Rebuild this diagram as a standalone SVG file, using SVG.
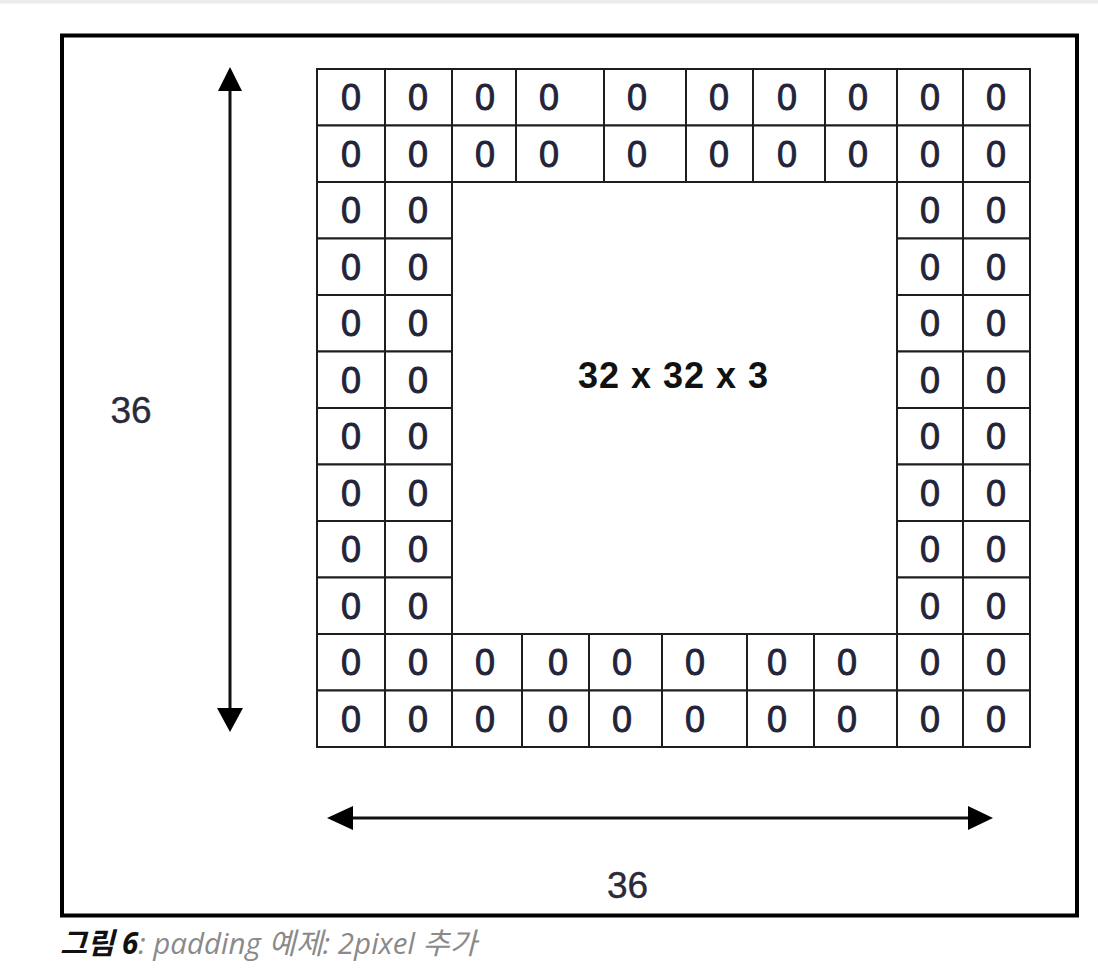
<svg xmlns="http://www.w3.org/2000/svg" width="1098" height="968" viewBox="0 0 1098 968">
<style>
.cell{fill:#fff;stroke:#1e1e1e;stroke-width:2}
.z{font-family:"Liberation Sans",Arial,sans-serif;font-size:36px;fill:#23233a;stroke:#23233a;stroke-width:0.9;text-anchor:middle}
.lbl{font-family:"Liberation Sans",Arial,sans-serif;font-size:37px;fill:#2a2a3a;stroke:#2a2a3a;stroke-width:0.4;text-anchor:middle}
.big{font-family:"Liberation Sans",Arial,sans-serif;font-size:36px;font-weight:bold;fill:#111;text-anchor:middle}
.ln{stroke:#111;stroke-width:3;fill:none}
.hd{fill:#000}
.cap{font-family:"Open Sans","Noto Sans CJK KR",sans-serif;font-size:29.5px;font-style:italic}
</style>
<rect x="0" y="0" width="1098" height="968" fill="#fff"/>
<rect x="0" y="0" width="1098" height="3.5" fill="#ececec"/>
<rect id="frame" x="62" y="35.5" width="1015" height="880" fill="none" stroke="#000" stroke-width="4"/>

<g id="top-band">
<rect class="cell" x="317" y="69" width="68" height="56.5"/><rect class="cell" x="385" y="69" width="67" height="56.5"/><rect class="cell" x="452" y="69" width="64" height="56.5"/><rect class="cell" x="516" y="69" width="88" height="56.5"/><rect class="cell" x="604" y="69" width="82" height="56.5"/><rect class="cell" x="686" y="69" width="67" height="56.5"/><rect class="cell" x="753" y="69" width="72" height="56.5"/><rect class="cell" x="825" y="69" width="72" height="56.5"/><rect class="cell" x="897" y="69" width="66" height="56.5"/><rect class="cell" x="963" y="69" width="67" height="56.5"/>
<rect class="cell" x="317" y="125.5" width="68" height="56.5"/><rect class="cell" x="385" y="125.5" width="67" height="56.5"/><rect class="cell" x="452" y="125.5" width="64" height="56.5"/><rect class="cell" x="516" y="125.5" width="88" height="56.5"/><rect class="cell" x="604" y="125.5" width="82" height="56.5"/><rect class="cell" x="686" y="125.5" width="67" height="56.5"/><rect class="cell" x="753" y="125.5" width="72" height="56.5"/><rect class="cell" x="825" y="125.5" width="72" height="56.5"/><rect class="cell" x="897" y="125.5" width="66" height="56.5"/><rect class="cell" x="963" y="125.5" width="67" height="56.5"/>
<text class="z" x="351" y="110.3">0</text><text class="z" x="418" y="110.3">0</text><text class="z" x="485" y="110.3">0</text><text class="z" x="549" y="110.3">0</text><text class="z" x="637" y="110.3">0</text><text class="z" x="719" y="110.3">0</text><text class="z" x="787" y="110.3">0</text><text class="z" x="858" y="110.3">0</text><text class="z" x="930" y="110.3">0</text><text class="z" x="996" y="110.3">0</text>
<text class="z" x="351" y="166.8">0</text><text class="z" x="418" y="166.8">0</text><text class="z" x="485" y="166.8">0</text><text class="z" x="549" y="166.8">0</text><text class="z" x="637" y="166.8">0</text><text class="z" x="719" y="166.8">0</text><text class="z" x="787" y="166.8">0</text><text class="z" x="858" y="166.8">0</text><text class="z" x="930" y="166.8">0</text><text class="z" x="996" y="166.8">0</text>
</g>

<g id="left-band">
<rect class="cell" x="317" y="182" width="68" height="56.5"/><rect class="cell" x="385" y="182" width="67" height="56.5"/>
<rect class="cell" x="317" y="238.5" width="68" height="56.5"/><rect class="cell" x="385" y="238.5" width="67" height="56.5"/>
<rect class="cell" x="317" y="295" width="68" height="56.5"/><rect class="cell" x="385" y="295" width="67" height="56.5"/>
<rect class="cell" x="317" y="351.5" width="68" height="56.5"/><rect class="cell" x="385" y="351.5" width="67" height="56.5"/>
<rect class="cell" x="317" y="408" width="68" height="56.5"/><rect class="cell" x="385" y="408" width="67" height="56.5"/>
<rect class="cell" x="317" y="464.5" width="68" height="56.5"/><rect class="cell" x="385" y="464.5" width="67" height="56.5"/>
<rect class="cell" x="317" y="521" width="68" height="56.5"/><rect class="cell" x="385" y="521" width="67" height="56.5"/>
<rect class="cell" x="317" y="577.5" width="68" height="56.5"/><rect class="cell" x="385" y="577.5" width="67" height="56.5"/>
<text class="z" x="351" y="223.3">0</text><text class="z" x="418" y="223.3">0</text>
<text class="z" x="351" y="279.8">0</text><text class="z" x="418" y="279.8">0</text>
<text class="z" x="351" y="336.3">0</text><text class="z" x="418" y="336.3">0</text>
<text class="z" x="351" y="392.8">0</text><text class="z" x="418" y="392.8">0</text>
<text class="z" x="351" y="449.3">0</text><text class="z" x="418" y="449.3">0</text>
<text class="z" x="351" y="505.8">0</text><text class="z" x="418" y="505.8">0</text>
<text class="z" x="351" y="562.3">0</text><text class="z" x="418" y="562.3">0</text>
<text class="z" x="351" y="618.8">0</text><text class="z" x="418" y="618.8">0</text>
</g>

<g id="right-band">
<rect class="cell" x="897" y="182" width="66" height="56.5"/><rect class="cell" x="963" y="182" width="67" height="56.5"/>
<rect class="cell" x="897" y="238.5" width="66" height="56.5"/><rect class="cell" x="963" y="238.5" width="67" height="56.5"/>
<rect class="cell" x="897" y="295" width="66" height="56.5"/><rect class="cell" x="963" y="295" width="67" height="56.5"/>
<rect class="cell" x="897" y="351.5" width="66" height="56.5"/><rect class="cell" x="963" y="351.5" width="67" height="56.5"/>
<rect class="cell" x="897" y="408" width="66" height="56.5"/><rect class="cell" x="963" y="408" width="67" height="56.5"/>
<rect class="cell" x="897" y="464.5" width="66" height="56.5"/><rect class="cell" x="963" y="464.5" width="67" height="56.5"/>
<rect class="cell" x="897" y="521" width="66" height="56.5"/><rect class="cell" x="963" y="521" width="67" height="56.5"/>
<rect class="cell" x="897" y="577.5" width="66" height="56.5"/><rect class="cell" x="963" y="577.5" width="67" height="56.5"/>
<text class="z" x="930" y="223.3">0</text><text class="z" x="996" y="223.3">0</text>
<text class="z" x="930" y="279.8">0</text><text class="z" x="996" y="279.8">0</text>
<text class="z" x="930" y="336.3">0</text><text class="z" x="996" y="336.3">0</text>
<text class="z" x="930" y="392.8">0</text><text class="z" x="996" y="392.8">0</text>
<text class="z" x="930" y="449.3">0</text><text class="z" x="996" y="449.3">0</text>
<text class="z" x="930" y="505.8">0</text><text class="z" x="996" y="505.8">0</text>
<text class="z" x="930" y="562.3">0</text><text class="z" x="996" y="562.3">0</text>
<text class="z" x="930" y="618.8">0</text><text class="z" x="996" y="618.8">0</text>
</g>

<g id="bottom-band">
<rect class="cell" x="317" y="634" width="68" height="56.5"/><rect class="cell" x="385" y="634" width="67" height="56.5"/><rect class="cell" x="452" y="634" width="70" height="56.5"/><rect class="cell" x="522" y="634" width="67" height="56.5"/><rect class="cell" x="589" y="634" width="73" height="56.5"/><rect class="cell" x="662" y="634" width="85" height="56.5"/><rect class="cell" x="747" y="634" width="67" height="56.5"/><rect class="cell" x="814" y="634" width="83" height="56.5"/><rect class="cell" x="897" y="634" width="66" height="56.5"/><rect class="cell" x="963" y="634" width="67" height="56.5"/>
<rect class="cell" x="317" y="690.5" width="68" height="56.5"/><rect class="cell" x="385" y="690.5" width="67" height="56.5"/><rect class="cell" x="452" y="690.5" width="70" height="56.5"/><rect class="cell" x="522" y="690.5" width="67" height="56.5"/><rect class="cell" x="589" y="690.5" width="73" height="56.5"/><rect class="cell" x="662" y="690.5" width="85" height="56.5"/><rect class="cell" x="747" y="690.5" width="67" height="56.5"/><rect class="cell" x="814" y="690.5" width="83" height="56.5"/><rect class="cell" x="897" y="690.5" width="66" height="56.5"/><rect class="cell" x="963" y="690.5" width="67" height="56.5"/>
<text class="z" x="351" y="675.3">0</text><text class="z" x="418" y="675.3">0</text><text class="z" x="485" y="675.3">0</text><text class="z" x="558" y="675.3">0</text><text class="z" x="622" y="675.3">0</text><text class="z" x="695" y="675.3">0</text><text class="z" x="777" y="675.3">0</text><text class="z" x="847" y="675.3">0</text><text class="z" x="930" y="675.3">0</text><text class="z" x="996" y="675.3">0</text>
<text class="z" x="351" y="731.8">0</text><text class="z" x="418" y="731.8">0</text><text class="z" x="485" y="731.8">0</text><text class="z" x="558" y="731.8">0</text><text class="z" x="622" y="731.8">0</text><text class="z" x="695" y="731.8">0</text><text class="z" x="777" y="731.8">0</text><text class="z" x="847" y="731.8">0</text><text class="z" x="930" y="731.8">0</text><text class="z" x="996" y="731.8">0</text>
</g>

<g id="center-label">
<text class="big" x="673" y="388" textLength="190" lengthAdjust="spacing">32 x 32 x 3</text>
</g>

<g id="connectors">
<line class="ln" x1="230" y1="88" x2="230" y2="712"/>
<polygon class="hd" points="230,67 218,91 242,91"/>
<polygon class="hd" points="230,732 217,708 243,708"/>
<line class="ln" x1="350" y1="818" x2="972" y2="818"/>
<polygon class="hd" points="327,818 353,806 353,830"/>
<polygon class="hd" points="993,818 968,806 968,830"/>
</g>

<g id="dim-labels">
<text class="lbl" x="131" y="423">36</text>
<text class="lbl" x="627.5" y="898">36</text>
</g>

<g id="caption">
<text class="cap" x="60" y="954"><tspan font-weight="bold" fill="#111">그림 6</tspan><tspan fill="#8a8a8a">: padding 예제: 2pixel 추가</tspan></text>
</g>
</svg>
